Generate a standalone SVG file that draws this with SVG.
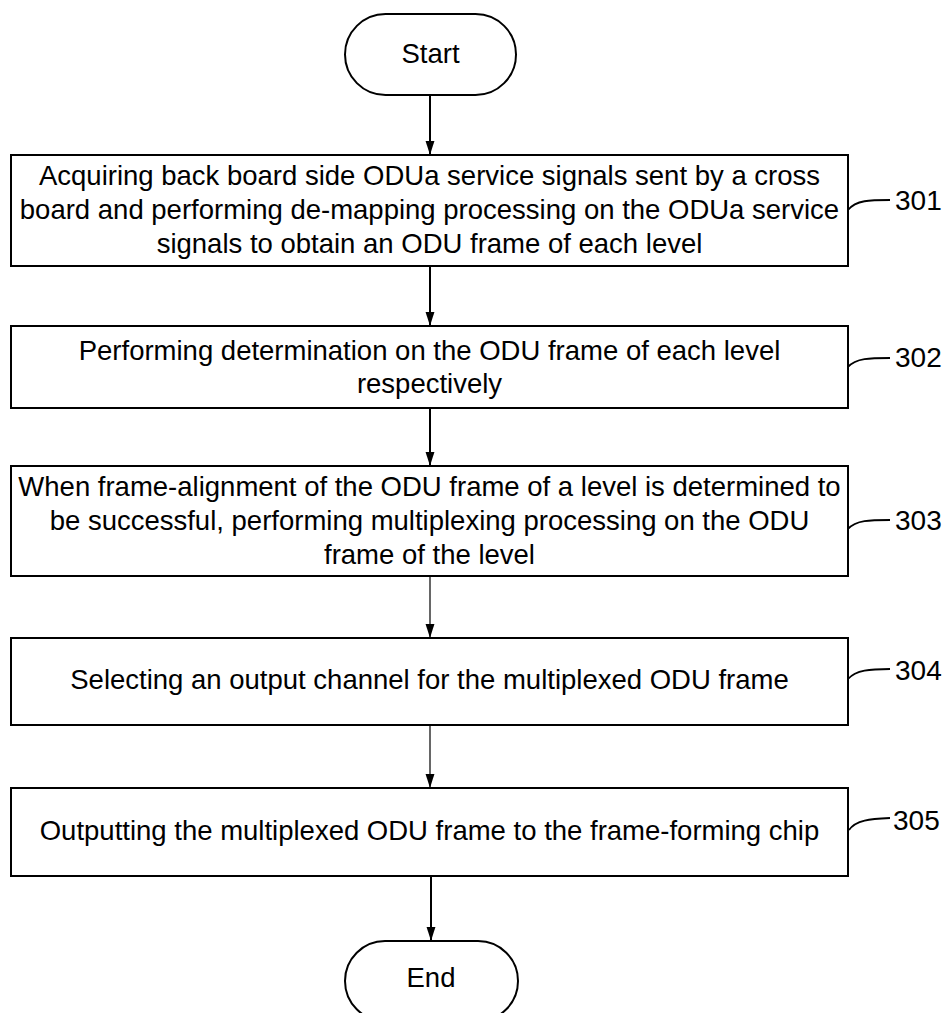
<svg xmlns="http://www.w3.org/2000/svg" width="944" height="1013" viewBox="0 0 944 1013">
<style>
.box{fill:#fff;stroke:#000;stroke-width:2}
.t{font-family:"Liberation Sans",Arial,sans-serif;font-size:27.5px;fill:#000;text-anchor:middle}
.lbl{font-family:"Liberation Sans",Arial,sans-serif;font-size:28px;fill:#000}
.c{stroke:#000;fill:none}
.lead{stroke:#000;stroke-width:1.8;fill:none}
</style>
<defs>
<marker id="ah" markerUnits="userSpaceOnUse" markerWidth="14" markerHeight="20" refX="19" refY="6" orient="auto" viewBox="0 0 19 12">
<path d="M0,0 L19,6 L0,12 Z" fill="#000"/>
</marker>
</defs>
<rect width="944" height="1013" fill="#fff"/>
<g id="connectors">
<line class="c" x1="430" y1="95" x2="430" y2="155" stroke-width="2" marker-end="url(#ah)"/>
<line class="c" x1="430" y1="266" x2="430" y2="326" stroke-width="2" marker-end="url(#ah)"/>
<line class="c" x1="430" y1="408" x2="430" y2="466" stroke-width="2" marker-end="url(#ah)"/>
<line class="c" x1="430" y1="576" x2="430" y2="638" stroke-width="1.2" marker-end="url(#ah)"/>
<line class="c" x1="430" y1="725" x2="430" y2="788" stroke-width="1.2" marker-end="url(#ah)"/>
<line class="c" x1="431" y1="876" x2="431" y2="941" stroke-width="2" marker-end="url(#ah)"/>
</g>
<g id="start">
<rect class="box" x="345" y="14" width="171" height="81" rx="40.5"/>
<text class="t" x="430.5" y="63">Start</text>
</g>
<g id="n301">
<rect class="box" x="11" y="155" width="837" height="111"/>
<text class="t" x="429.5" y="185">Acquiring back board side ODUa service signals sent by a cross</text>
<text class="t" x="429.5" y="219">board and performing de-mapping processing on the ODUa service</text>
<text class="t" x="429.5" y="253">signals to obtain an ODU frame of each level</text>
<path class="lead" d="M848,210 C856,200 870,200 890,200"/>
<text class="lbl" x="895" y="210">301</text>
</g>
<g id="n302">
<rect class="box" x="11" y="326" width="837" height="82"/>
<text class="t" x="429.5" y="360">Performing determination on the ODU frame of each level</text>
<text class="t" x="429.5" y="393">respectively</text>
<path class="lead" d="M848,367 C856,358 870,358 890,358"/>
<text class="lbl" x="895" y="367">302</text>
</g>
<g id="n303">
<rect class="box" x="11" y="466" width="837" height="110"/>
<text class="t" x="429.5" y="496">When frame-alignment of the ODU frame of a level is determined to</text>
<text class="t" x="429.5" y="530">be successful, performing multiplexing processing on the ODU</text>
<text class="t" x="429.5" y="564">frame of the level</text>
<path class="lead" d="M848,529 C856,520 870,520 890,520"/>
<text class="lbl" x="895" y="530">303</text>
</g>
<g id="n304">
<rect class="box" x="11" y="638" width="837" height="87"/>
<text class="t" x="429.5" y="689">Selecting an output channel for the multiplexed ODU frame</text>
<path class="lead" d="M848,679 C856,670 870,669 890,669"/>
<text class="lbl" x="895" y="680">304</text>
</g>
<g id="n305">
<rect class="box" x="11" y="788" width="837" height="88"/>
<text class="t" x="429.5" y="840">Outputting the multiplexed ODU frame to the frame-forming chip</text>
<path class="lead" d="M849,830 C856,820 870,819 890,818"/>
<text class="lbl" x="893" y="830">305</text>
</g>
<g id="end">
<rect class="box" x="345" y="941" width="173" height="80" rx="40"/>
<text class="t" x="431" y="987">End</text>
</g>
</svg>
